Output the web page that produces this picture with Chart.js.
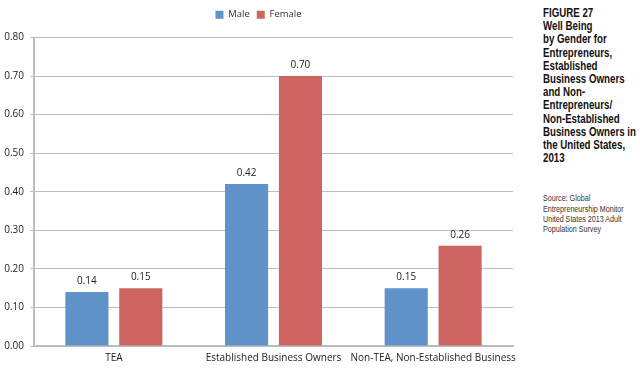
<!DOCTYPE html>
<html>
<head>
<meta charset="utf-8">
<script src="https://cdn.jsdelivr.net/npm/chart.js@4"></script>
<style>
  body { margin: 0; background: #fff; }
  #wrap { position: absolute; left: 0; top: 0; width: 526px; height: 373px; }
  #side { position: absolute; left: 543px; top: 7px; font-family: "Liberation Sans", Arial, sans-serif; color: #111; white-space: nowrap; transform-origin: left top; }
  #side .title { font-weight: bold; font-size: 12px; line-height: 13.2px; transform: scaleX(0.81); transform-origin: left top; }
  #side .src { margin-top: 28px; font-size: 8.5px; line-height: 10.3px; color: #333; transform: scaleX(0.84); transform-origin: left top; }
</style>
</head>
<body>
<div id="wrap"><canvas id="wellBeingChart"></canvas></div>
<div id="side">
  <div class="title">FIGURE 27<br>Well Being<br>by Gender for<br>Entrepreneurs,<br>Established<br>Business Owners<br>and Non-<br>Entrepreneurs/<br>Non-Established<br>Business Owners in<br>the United States,<br>2013</div>
  <div class="src">Source: Global<br>Entrepreneurship Monitor<br>United States 2013 Adult<br>Population Survey</div>
</div>
<script>
const categories = ["TEA", "Established Business Owners", "Non-TEA, Non-Established Business"];
const maleValues = [0.14, 0.42, 0.15];
const femaleValues = [0.15, 0.70, 0.26];

// writes the value above each bar
const barLabels = {
  id: "barLabels",
  afterDatasetsDraw(chart) {
    const ctx = chart.ctx;
    ctx.save();
    ctx.font = "10px 'Open Sans', sans-serif";
    ctx.fillStyle = "#222";
    ctx.textAlign = "center";
    ctx.textBaseline = "bottom";
    chart.data.datasets.forEach((ds, i) => {
      chart.getDatasetMeta(i).data.forEach((bar, j) => {
        ctx.fillText(ds.data[j].toFixed(2), bar.x, bar.y - 6);
      });
    });
    ctx.restore();
  }
};

// extra room between the legend and the plot
const legendGap = {
  id: "legendGap",
  beforeInit(chart) {
    const fit = chart.legend.fit;
    chart.legend.fit = function () {
      fit.bind(chart.legend)();
      this.height += 8;
    };
  }
};

new Chart(document.getElementById("wellBeingChart"), {
  type: "bar",
  data: {
    labels: categories,
    datasets: [
      {
        label: "Male",
        data: maleValues,
        backgroundColor: "#5F93CA",
        categoryPercentage: 0.675,
        barPercentage: 0.8,
      },
      {
        label: "Female",
        data: femaleValues,
        backgroundColor: "#CC6560",
        categoryPercentage: 0.675,
        barPercentage: 0.8,
      },
    ]
  },
  plugins: [barLabels, legendGap],
  options: {
    responsive: true,
    maintainAspectRatio: false,
    animation: false,
    layout: {
      padding: { left: 4, right: 13, top: 3, bottom: 3 }
    },
    scales: {
      y: {
        min: 0,
        max: 0.8,
        ticks: {
          stepSize: 0.1,
          callback: (v) => v.toFixed(2),
          color: "#222",
          font: { family: "Open Sans", size: 10 },
          padding: 6,
        },
        grid: { color: "#BDBDBD", tickLength: 4 },
        border: { color: "#BDBDBD", width: 2 },
        afterFit: (axis) => { axis.width = 30; },
      },
      x: {
        ticks: {
          color: "#222",
          font: { family: "Open Sans", size: 10 },
          padding: 6,
          maxRotation: 0,
          autoSkip: false,
        },
        grid: { display: false, drawTicks: false },
        border: { color: "#BDBDBD", width: 2 },
      }
    },
    plugins: {
      legend: {
        display: true,
        labels: {
          boxWidth: 8,
          boxHeight: 8,
          color: "#333",
          font: { family: "Open Sans", size: 9.5 },
          padding: 7,
        }
      },
      tooltip: { enabled: false }
    }
  }
});
</script>
</body>
</html>
